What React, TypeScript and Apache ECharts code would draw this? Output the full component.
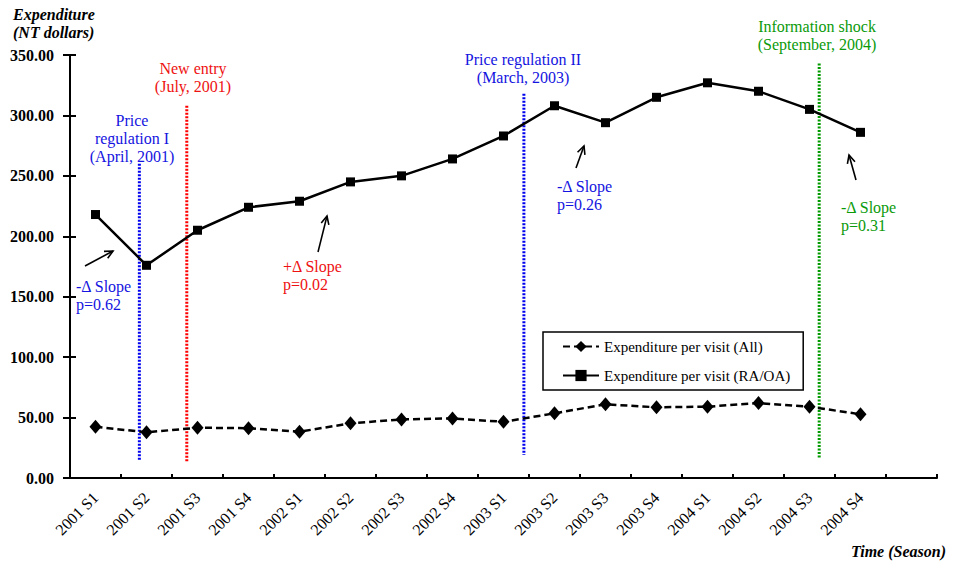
import { useEffect, useRef } from 'react'
import * as echarts from 'echarts'

// 季度（最后一格为空，坐标轴多留一格）
const seasons = [
  '2001 S1', '2001 S2', '2001 S3', '2001 S4',
  '2002 S1', '2002 S2', '2002 S3', '2002 S4',
  '2003 S1', '2003 S2', '2003 S3', '2003 S4',
  '2004 S1', '2004 S2', '2004 S3', '2004 S4',
]
const categories = [...seasons, '']

const allVisit = [42.4, 37.8, 41.6, 41.2, 38.3, 45.2, 48.5, 49.3, 46.5, 53.5, 61.0, 58.5, 59.0, 62.0, 59.0, 52.7]
const raoaVisit = [218, 176, 205, 224, 229, 245, 250, 264, 283, 308, 294, 315, 327, 320, 305, 286]

// 事件竖线：位置以「格」为单位（0 = 轴左端），上下端为 y 值
const eventX = [1.36, 2.29, 8.9, 14.69]
const eventTop = [260, 308, 318, 343]
const eventBottom = [14, 13, 19, 16]
const eventColor = ['#0000ee', '#ff0000', '#0000ee', '#009900']

const yTicks = { min: 0, max: 350, interval: 50 }

const FONT = '"Liberation Serif", "Times New Roman", serif'
const BLUE = '#1414e0'
const RED = '#ee1111'
const GREEN = '#0a9a0a'

const txt = (x: number, y: number, text: string, fill: string, align = 'center', font = `16px ${FONT}`) => ({
  type: 'text',
  x,
  y,
  silent: true,
  style: { text, fill, font, align, verticalAlign: 'top', lineHeight: 18 },
})

// 开口箭头：(x1,y1) → (x2,y2)
const arrow = (x1: number, y1: number, x2: number, y2: number) => {
  const a = Math.atan2(y2 - y1, x2 - x1)
  const len = 9
  const w = 0.45
  const p1 = [x2 - len * Math.cos(a - w), y2 - len * Math.sin(a - w)]
  const p2 = [x2 - len * Math.cos(a + w), y2 - len * Math.sin(a + w)]
  return {
    type: 'group',
    silent: true,
    children: [
      { type: 'line', shape: { x1, y1, x2, y2 }, style: { stroke: '#000', lineWidth: 1.6 } },
      { type: 'polyline', shape: { points: [p1, [x2, y2], p2] }, style: { stroke: '#000', lineWidth: 1.6, fill: null } },
    ],
  }
}

export default function App() {
  const elRef = useRef<HTMLDivElement>(null)

  useEffect(() => {
    if (!elRef.current) return
    const chart = echarts.init(elRef.current, undefined, { renderer: 'svg' })

    const eventSeries = eventX.map((x, i) => ({
      type: 'line',
      xAxisIndex: 1,
      yAxisIndex: 0,
      data: [[x, eventTop[i]], [x, eventBottom[i]]],
      showSymbol: false,
      symbol: 'none',
      silent: true,
      z: 1,
      lineStyle: { color: eventColor[i], width: 3, type: [2, 1.5] },
    }))

    chart.setOption({
      animation: false,
      textStyle: { fontFamily: FONT },
      grid: { left: 70, right: 21, top: 55, bottom: 86 },
      legend: {
        data: ['Expenditure per visit (All)', 'Expenditure per visit (RA/OA)'],
        orient: 'vertical',
        left: 543,
        top: 332,
        padding: [7, 13, 7, 19],
        itemGap: 14,
        itemWidth: 36,
        itemHeight: 14,
        borderColor: '#000',
        borderWidth: 1.5,
        backgroundColor: '#fff',
        textStyle: { fontFamily: FONT, fontSize: 15, color: '#000' },
        selectedMode: false,
      },
      xAxis: [
        {
          type: 'category',
          data: categories,
          position: 'bottom',
          boundaryGap: true,
          axisLine: { lineStyle: { color: '#000', width: 2 } },
          axisTick: { length: 5, lineStyle: { color: '#000', width: 2 } },
          axisLabel: {
            interval: 0,
            rotate: 45,
            margin: 17,
            color: '#000',
            fontSize: 16,
            fontFamily: FONT,
          },
        },
        {
          type: 'value',
          min: 0,
          max: categories.length,
          interval: 1,
          position: 'bottom',
          axisLine: { show: false },
          axisTick: { inside: true, length: 4, lineStyle: { color: '#000', width: 2 } },
          axisLabel: { show: false },
          splitLine: { show: false },
        },
      ],
      yAxis: [
        {
          type: 'value',
          ...yTicks,
          position: 'left',
          axisLine: { show: true, lineStyle: { color: '#000', width: 2 } },
          axisTick: { show: true, length: 7, lineStyle: { color: '#000', width: 2 } },
          axisLabel: {
            margin: 16,
            color: '#000',
            fontSize: 16,
            fontWeight: 'bold',
            fontFamily: FONT,
            formatter: (v: number) => v.toFixed(2),
          },
          splitLine: { show: false },
        },
        {
          type: 'value',
          ...yTicks,
          position: 'left',
          axisLine: { show: false },
          axisTick: { show: true, inside: true, length: 6, lineStyle: { color: '#000', width: 2 } },
          axisLabel: { show: false },
          splitLine: { show: false },
        },
      ],
      series: [
        {
          name: 'Expenditure per visit (All)',
          type: 'line',
          data: allVisit,
          symbol: 'diamond',
          symbolSize: [12, 14],
          z: 3,
          itemStyle: { color: '#000' },
          lineStyle: { color: '#000', width: 2.5, type: [7, 4] },
        },
        {
          name: 'Expenditure per visit (RA/OA)',
          type: 'line',
          data: raoaVisit,
          symbol: 'rect',
          symbolSize: 9,
          z: 3,
          itemStyle: { color: '#000' },
          lineStyle: { color: '#000', width: 2.5 },
        },
        ...eventSeries,
      ],
      graphic: [
        txt(13, 5, 'Expenditure\n(NT dollars)', '#000', 'left', `italic bold 16px ${FONT}`),
        {
          type: 'text',
          x: 946,
          y: 551,
          silent: true,
          style: { text: 'Time (Season)', fill: '#000', font: `italic bold 16px ${FONT}`, align: 'right', verticalAlign: 'middle' },
        },
        txt(132, 111, 'Price\nregulation I\n(April, 2001)', BLUE),
        txt(193, 59, 'New entry\n(July, 2001)', RED),
        txt(523, 50, 'Price regulation II\n(March, 2003)', BLUE),
        txt(817, 17, 'Information shock\n(September, 2004)', GREEN),
        txt(76, 277, '-\u0394 Slope\np=0.62', BLUE, 'left'),
        txt(283, 257, '+\u0394 Slope\np=0.02', RED, 'left'),
        txt(557, 177, '-\u0394 Slope\np=0.26', BLUE, 'left'),
        txt(841, 198, '-\u0394 Slope\np=0.31', GREEN, 'left'),
        arrow(85, 266, 113, 251),
        arrow(318, 252, 327, 216),
        arrow(576, 168, 584, 146),
        arrow(856, 180, 849, 155),
      ],
    })

    return () => chart.dispose()
  }, [])

  return (
    <div
      ref={elRef}
      style={{ position: 'fixed', left: 0, top: 0, width: 958, height: 564, background: '#fff' }}
    />
  )
}
